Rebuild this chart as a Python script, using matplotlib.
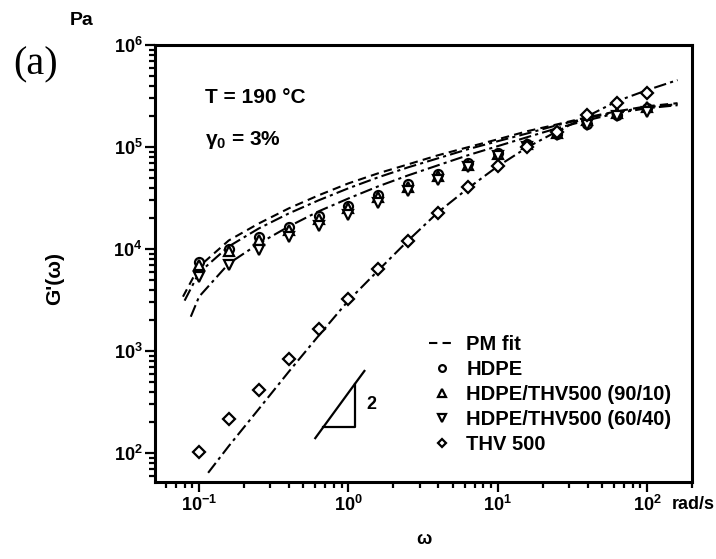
import math
import matplotlib
matplotlib.use('Agg')
import matplotlib.pyplot as plt
from matplotlib.ticker import LogLocator, FuncFormatter, NullFormatter

plt.rcParams['font.family'] = ['Liberation Sans', 'DejaVu Sans']
plt.rcParams['font.weight'] = 'bold'
plt.rcParams['mathtext.fontset'] = 'custom'
plt.rcParams['mathtext.rm'] = 'Liberation Sans:bold'
plt.rcParams['mathtext.bf'] = 'Liberation Sans:bold'
plt.rcParams['mathtext.it'] = 'Liberation Sans:bold'

# measured frequencies (rad/s)
omega = [0.1, 0.158, 0.251, 0.398, 0.631, 1.0, 1.58, 2.51, 3.98, 6.31,
         10, 15.8, 25.1, 39.8, 63.1, 100]

# storage modulus G' (Pa)
g_hdpe = [7500, 10000, 13000, 16500, 21000, 26500, 34000, 43000, 54000, 70000,
          88000, 108000, 135000, 170000, 208000, 240000]
g_9010 = [7000, 9500, 12300, 15500, 19500, 25000, 32000, 41000, 52000, 67000,
          86000, 107000, 136000, 185000, 215000, 245000]
g_6040 = [5300, 7000, 9700, 13000, 17000, 21500, 28000, 37000, 48000, 63000,
          82000, 100000, 130000, 165000, 200000, 220000]
g_thv = [103, 216, 416, 840, 1650, 3260, 6430, 12100, 22300, 40200,
         64700, 99500, 140000, 205000, 269000, 337000]

# PM model curves
fit_w_hdpe = [0.078, 0.1, 0.158, 0.251, 0.398, 0.631, 1.0, 1.58, 2.51, 3.98,
              6.31, 10, 15.8, 25.1, 39.8, 63.1, 100, 160]
fit_hdpe = [3410, 6730, 12130, 17800, 25000, 33600, 44000, 55200, 67600, 83000,
            99500, 119000, 143000, 167000, 196000, 224000, 251000, 269000]
fit_w_9010 = [0.08, 0.1, 0.158, 0.251, 0.398, 0.631, 1.0, 1.58, 2.51, 3.98,
              6.31, 10, 15.8, 25.1, 39.8, 63.1, 100, 160]
fit_9010 = [3120, 5870, 10600, 15900, 22300, 30000, 39400, 50400, 63200, 77500,
            95100, 114000, 136000, 164000, 192000, 220000, 246000, 263000]
fit_w_6040 = [0.088, 0.1, 0.158, 0.251, 0.398, 0.631, 1.0, 1.58, 2.51, 3.98,
              6.31, 10, 15.8, 25.1, 39.8, 63.1, 100, 160]
fit_6040 = [2170, 3410, 7200, 11300, 16600, 23400, 31300, 41100, 52700, 66200,
            83000, 102000, 125000, 153000, 183000, 215000, 240000, 257000]
fit_w_thv = [0.115, 0.158, 0.251, 0.398, 0.631, 1.0, 1.58, 2.51, 3.98, 6.31,
             10, 15.8, 25.1, 39.8, 63.1, 100, 160]
fit_thv = [64, 117, 270, 625, 1410, 3120, 6150, 12100, 22900, 39300,
           64700, 99500, 143000, 200000, 282000, 361000, 453000]

# slope-2 guide triangle
tri_w = [0.60, 0.68, 1.10, 1.28]
tri_g = [140, 180, 472, 638]

fig = plt.figure(figsize=(7.16, 5.59), dpi=100)
ax = fig.add_axes([0.2165, 0.1377, 0.75, 0.7818])

ax.set_xscale('log')
ax.set_yscale('log')
ax.set_xlim(0.0507, 200)
ax.set_ylim(52, 1e6)

dashdot = (0, (6, 2, 1.5, 2))
l_fit, = ax.plot(fit_w_hdpe, fit_hdpe, color='black', lw=1.5, ls=(0, (4, 2.5)), label='PM fit')
ax.plot(fit_w_9010, fit_9010, color='black', lw=1.5, ls=dashdot)
ax.plot(fit_w_6040, fit_6040, color='black', lw=1.5, ls=dashdot)
ax.plot(fit_w_thv, fit_thv, color='black', lw=1.5, ls=dashdot)

mk = dict(ls='none', mfc='white', mec='black', mew=1.6, zorder=3)
h1, = ax.plot(omega, g_hdpe, marker='o', ms=6.5, label='HDPE', **mk)
h2, = ax.plot(omega, g_9010, marker='^', ms=7, label='HDPE/THV500 (90/10)', **mk)
h3, = ax.plot(omega, g_6040, marker='v', ms=7, label='HDPE/THV500 (60/40)', **mk)
h4, = ax.plot(omega, g_thv, marker='D', ms=6, label='THV 500', **mk)

# slope triangle
ax.plot(tri_w, tri_g, color='black', lw=1.6)
ax.plot([tri_w[1], tri_w[2], tri_w[2]], [tri_g[1], tri_g[1], tri_g[2]], color='black', lw=1.6)
ax.text(1.32, 300, '2', fontsize=13, fontweight='bold', va='center', ha='left')

for s in ax.spines.values():
    s.set_linewidth(2.2)

ax.tick_params(which='both', direction='out', top=False, right=False, width=1.6)
ax.tick_params(which='major', length=7, labelsize=13, pad=2)
ax.tick_params(which='minor', length=4)
ax.xaxis.set_major_locator(LogLocator(base=10, numticks=10))
ax.yaxis.set_major_locator(LogLocator(base=10, numticks=10))
ax.xaxis.set_minor_locator(LogLocator(base=10, subs=range(2, 10), numticks=20))
ax.yaxis.set_minor_locator(LogLocator(base=10, subs=range(2, 10), numticks=20))
fmt = FuncFormatter(lambda v, p: r'$\mathbf{10^{%d}}$' % round(math.log10(v)))
ax.xaxis.set_major_formatter(fmt)
ax.yaxis.set_major_formatter(fmt)
ax.xaxis.set_minor_formatter(NullFormatter())
ax.yaxis.set_minor_formatter(NullFormatter())

ax.set_xlabel('ω', fontsize=13, fontweight='bold', labelpad=12)
ax.set_ylabel("G'(ω)", fontsize=15, fontweight='bold')
ax.yaxis.set_label_coords(-0.17, 0.465)

ax.text(0.093, 0.88, 'T = 190 °C', transform=ax.transAxes, fontsize=15, fontweight='bold', va='center')
ax.text(0.093, 0.782, r'$\mathbf{γ_{0}}$ = 3%', transform=ax.transAxes, fontsize=15, fontweight='bold', va='center')

fig.text(0.097, 0.963, 'Pa', fontsize=14, fontweight='bold', va='center', ha='left')
fig.text(0.018, 0.883, '(a)', fontsize=29, family='Liberation Serif', fontweight='normal', va='center', ha='left')
fig.text(0.938, 0.097, 'rad/s', fontsize=13, fontweight='bold', va='center', ha='left')

ax.legend(handles=[l_fit, h1, h2, h3, h4], loc='upper left', bbox_to_anchor=(0.495, 0.355),
          frameon=False, fontsize=14.5, handlelength=1.3, handletextpad=0.55,
          labelspacing=0.3, markerscale=0.75, borderaxespad=0)

fig.savefig('out.png', dpi=100)
